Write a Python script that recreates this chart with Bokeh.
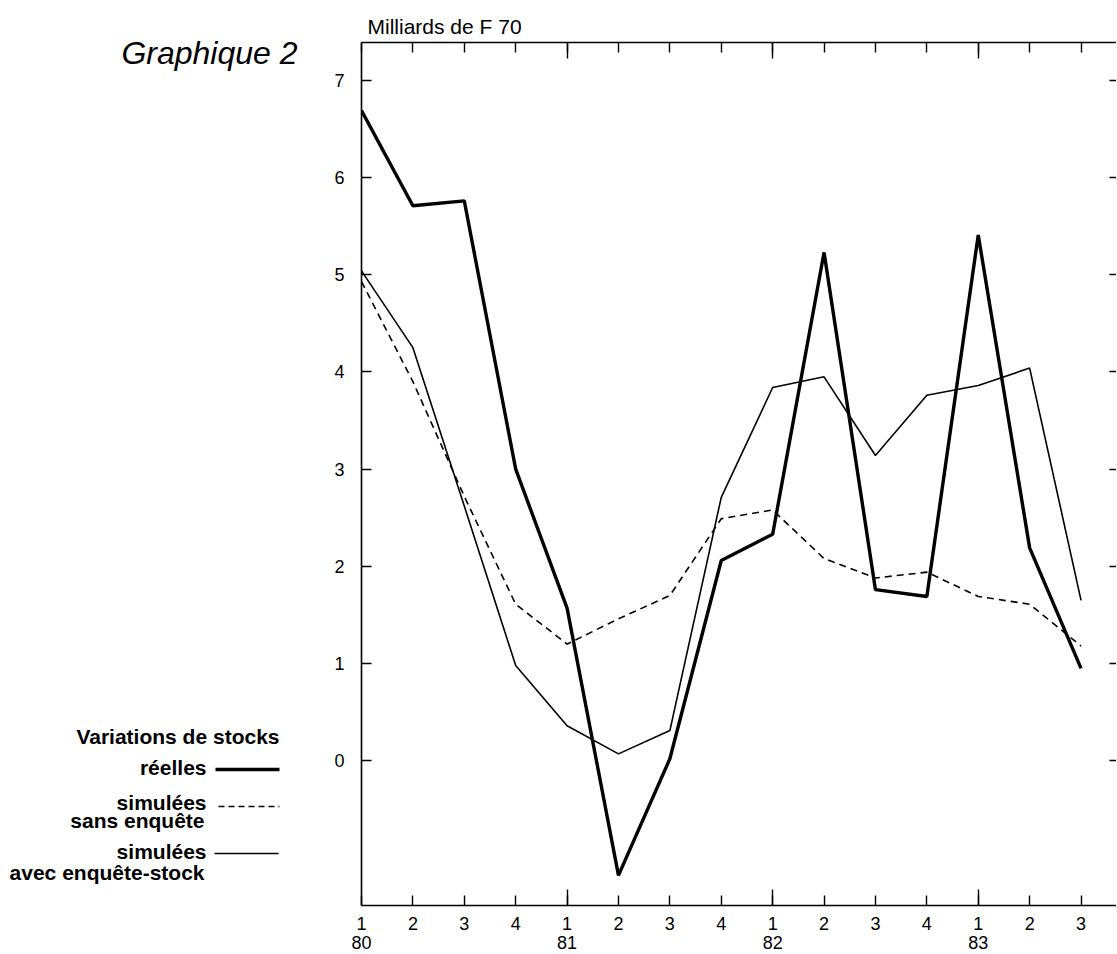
from bokeh.plotting import figure
from bokeh.layouts import row
from bokeh.models import Range1d, LinearAxis, FixedTicker, CustomJSTickFormatter
from bokeh.core.properties import value
from bokeh.embed import file_html
from bokeh.resources import INLINE

# ---------------- data ----------------
quarters = list(range(15))          # 1980 Q1 ... 1983 Q3
quarter_labels = ["1", "2", "3", "4", "1", "2", "3", "4",
                  "1", "2", "3", "4", "1", "2", "3"]
year_ticks = [0, 4, 8, 12]
year_labels = ["80", "81", "82", "83"]
y_ticks = [0, 1, 2, 3, 4, 5, 6, 7]

reelles = [6.69, 5.71, 5.76, 3.00, 1.57, -1.18, 0.02, 2.06,
           2.33, 5.23, 1.76, 1.69, 5.41, 2.19, 0.95]
sans_enquete = [4.93, 3.90, 2.72, 1.61, 1.20, 1.46, 1.70, 2.49,
                2.58, 2.08, 1.88, 1.94, 1.69, 1.61, 1.18]
avec_enquete = [5.04, 4.25, 2.62, 0.98, 0.36, 0.07, 0.31, 2.71,
                3.84, 3.95, 3.14, 3.76, 3.86, 4.04, 1.65]

legend_title = "Variations de stocks"
legend_names = ["réelles", "simulées", "sans enquête", "simulées", "avec enquête-stock"]

FONT = "Liberation Sans"

# ---------------- layout geometry (pixels) ----------------
SIDE_W = 321          # width of the left text panel
MAIN_LEFT = 40        # border left of main frame
FRAME_W, FRAME_H = 755, 863
X_RANGE = (0, 14.69)
Y_RANGE = (-1.49, 7.39)

# ---------------- main chart ----------------
p = figure(frame_width=FRAME_W, frame_height=FRAME_H,
           x_range=Range1d(*X_RANGE), y_range=Range1d(*Y_RANGE),
           output_backend="svg", toolbar_location=None,
           x_axis_location=None, y_axis_location=None,
           min_border_left=MAIN_LEFT, min_border_top=42,
           min_border_bottom=0, min_border_right=0)
p.frame_align = False
p.outline_line_color = None
p.xgrid.visible = False
p.ygrid.visible = False

p.title.text = "Milliards de F 70"
p.title.align = "left"
p.title.offset = 6
p.title.standoff = 9
p.title.text_font = FONT
p.title.text_font_size = "21px"
p.title.text_font_style = "normal"
p.title.text_color = "black"

blank = CustomJSTickFormatter(code="return ''")

bottom = LinearAxis(ticker=FixedTicker(ticks=quarters, minor_ticks=year_ticks[1:]),
                    major_label_overrides={i: s for i, s in zip(quarters, quarter_labels)})
bottom.major_tick_in = 10
bottom.major_tick_out = 0
bottom.minor_tick_in = 16
bottom.minor_tick_out = 0
bottom.major_label_standoff = 11
bottom.major_label_text_font = FONT
bottom.major_label_text_font_size = "18px"
bottom.major_label_text_color = "black"
bottom.axis_line_width = 1.6
bottom.axis_line_color = "black"
bottom.major_tick_line_width = 1.4
bottom.minor_tick_line_width = 1.4
p.add_layout(bottom, "below")

years = LinearAxis(ticker=FixedTicker(ticks=year_ticks, minor_ticks=[]),
                   major_label_overrides={t: s for t, s in zip(year_ticks, year_labels)})
years.axis_line_color = None
years.major_tick_line_color = None
years.major_tick_in = 0
years.major_tick_out = 0
years.major_label_standoff = 3
years.major_label_text_font = FONT
years.major_label_text_font_size = "18px"
years.major_label_text_color = "black"
p.add_layout(years, "below")

top = LinearAxis(ticker=FixedTicker(ticks=quarters, minor_ticks=year_ticks[1:]),
                 formatter=blank)
top.major_tick_in = 10
top.major_tick_out = 0
top.minor_tick_in = 16
top.minor_tick_out = 0
top.major_label_standoff = 0
top.major_label_text_font_size = "0px"
top.axis_line_width = 1.6
top.major_tick_line_width = 1.4
top.minor_tick_line_width = 1.4
p.add_layout(top, "above")

left = LinearAxis(ticker=FixedTicker(ticks=y_ticks, minor_ticks=[]))
left.major_tick_in = 10
left.major_tick_out = 0
left.major_label_standoff = 17
left.major_label_text_font = FONT
left.major_label_text_font_size = "18px"
left.major_label_text_color = "black"
left.axis_line_width = 1.6
left.major_tick_line_width = 1.4
p.add_layout(left, "left")

right = LinearAxis(ticker=FixedTicker(ticks=y_ticks, minor_ticks=[]), formatter=blank)
right.axis_line_color = None
right.major_tick_in = 7
right.major_tick_out = 0
right.major_label_standoff = 0
right.major_label_text_font_size = "0px"
right.major_tick_line_width = 1.4
p.add_layout(right, "right")

p.line(quarters, avec_enquete, line_color="black", line_width=1.6)
p.line(quarters, sans_enquete, line_color="black", line_width=1.6, line_dash="7 5")
p.line(quarters, reelles, line_color="black", line_width=3.4)

# ---------------- left text panel ----------------
SIDE_H = 950
side = figure(width=SIDE_W, height=SIDE_H, x_range=Range1d(0, SIDE_W),
              y_range=Range1d(SIDE_H, 0), output_backend="svg",
              toolbar_location=None, min_border=0,
              x_axis_location=None, y_axis_location=None)
side.frame_align = False
side.outline_line_color = None
side.xgrid.visible = False
side.ygrid.visible = False

side.text(x=[297], y=[52], text=["Graphique 2"], text_align="right",
          text_baseline="middle", text_font=value(FONT),
          text_font_style="italic", text_font_size=value("32px"),
          text_color="black")

side.text(x=[279, 206, 206, 204, 206, 204],
          y=[736, 767, 802, 820, 851, 872],
          text=[legend_title] + legend_names, text_align="right",
          text_baseline="middle", text_font=value(FONT),
          text_font_style="bold", text_font_size=value("21px"),
          text_color="black")

side.segment(x0=[215], y0=[769], x1=[279], y1=[769], line_color="black", line_width=3.4)
side.segment(x0=[218], y0=[806], x1=[279], y1=[806], line_color="black",
             line_width=1.6, line_dash="6 4")
side.segment(x0=[214], y0=[853], x1=[278], y1=[853], line_color="black", line_width=1.6)

layout = row(side, p)
open("out.html", "w").write(file_html(layout, INLINE))
